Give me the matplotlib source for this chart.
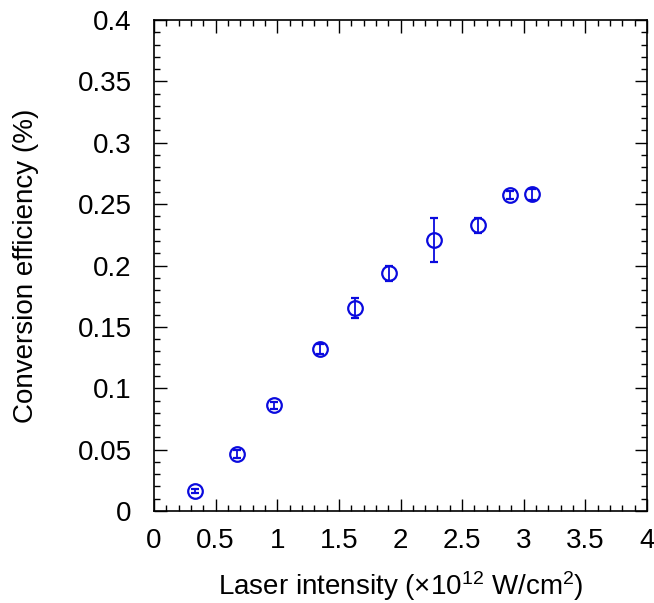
#!/usr/bin/env python3

import matplotlib
matplotlib.use("Agg")
import matplotlib.pyplot as plt
from matplotlib.ticker import MultipleLocator

intensity = [0.33, 0.676, 0.976, 1.347, 1.633, 1.907, 2.274, 2.626, 2.886, 3.07]
efficiency = [0.0163, 0.0464, 0.0861, 0.132, 0.1656, 0.1936, 0.221, 0.2327, 0.2574, 0.2582]
efficiency_err = [0.002, 0.003, 0.003, 0.004, 0.008, 0.006, 0.0178, 0.0064, 0.003, 0.0045]

x_ticks = [0, 0.5, 1, 1.5, 2, 2.5, 3, 3.5, 4]
x_tick_labels = ["0", "0.5", "1", "1.5", "2", "2.5", "3", "3.5", "4"]
y_ticks = [0, 0.05, 0.1, 0.15, 0.2, 0.25, 0.3, 0.35, 0.4]
y_tick_labels = ["0", "0.05", "0.1", "0.15", "0.2", "0.25", "0.3", "0.35", "0.4"]

BLUE = "#0a0ade"

plt.rcParams["font.family"] = ["Liberation Sans", "DejaVu Sans"]
plt.rcParams["mathtext.default"] = "regular"

fig = plt.figure(figsize=(6.54, 6.03), dpi=100)
ax = fig.add_axes([154 / 654, 1 - 511 / 603, 493 / 654, 491 / 603])

ax.errorbar(
    intensity,
    efficiency,
    yerr=efficiency_err,
    fmt="o",
    mfc="none",
    mec=BLUE,
    ecolor=BLUE,
    ms=10.5,
    mew=1.6,
    elinewidth=1.3,
    capsize=3,
    capthick=1.3,
)

ax.set_xlim(0, 4)
ax.set_ylim(0, 0.4)
ax.set_xticks(x_ticks)
ax.set_xticklabels(x_tick_labels)
ax.set_yticks(y_ticks)
ax.set_yticklabels(y_tick_labels)
ax.xaxis.set_minor_locator(MultipleLocator(0.1))
ax.yaxis.set_minor_locator(MultipleLocator(0.01))
ax.tick_params(which="both", direction="in", top=True, right=True, labelsize=20)
ax.tick_params(which="major", length=9, width=1)
ax.tick_params(which="minor", length=4.5, width=1)
ax.tick_params(axis="x", pad=12)
ax.tick_params(axis="y", pad=16)
for s in ax.spines.values():
    s.set_linewidth(1.2)

ax.set_xlabel("Laser intensity (\u00d710$^{12}$ W/cm$^{2}$)", fontsize=20, labelpad=11)
ax.set_ylabel("Conversion efficiency (%)", fontsize=20, labelpad=28)

fig.savefig("out.png", dpi=100)
